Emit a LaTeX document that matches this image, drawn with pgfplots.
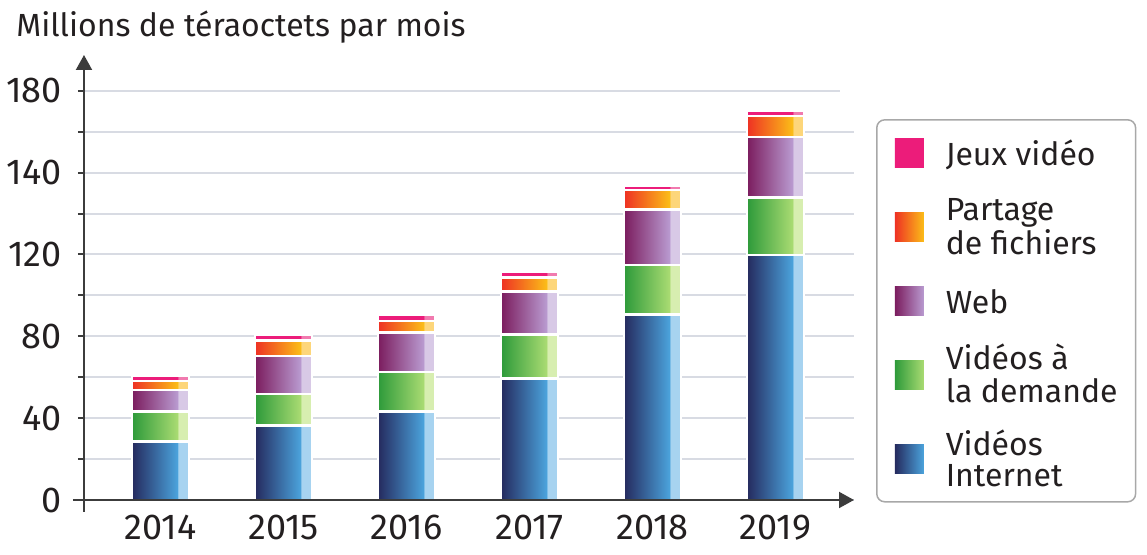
\documentclass[border=0pt]{standalone}
\usepackage{fontspec}
\setmainfont{Fira Sans}
\usepackage{pgfplots}
\usepackage{pgfplotstable}
\pgfplotsset{compat=1.18}
\usetikzlibrary{arrows.meta}

\definecolor{txt}{HTML}{231F20}
\definecolor{axc}{HTML}{3C3C3C}
\definecolor{gridc}{HTML}{D8DBE3}
\definecolor{legc}{HTML}{A8A8A8}
% blue
\definecolor{bL}{HTML}{252A5E}
\definecolor{bR}{HTML}{4BA3DC}
\definecolor{bS}{HTML}{A7D3F0}
% green
\definecolor{gL}{HTML}{2D9A3A}
\definecolor{gR}{HTML}{A9DB72}
\definecolor{gS}{HTML}{D7EEB0}
% purple
\definecolor{pL}{HTML}{7B1C5E}
\definecolor{pR}{HTML}{B99AD0}
\definecolor{pS}{HTML}{D8C9E6}
% orange
\definecolor{oL}{HTML}{EE3124}
\definecolor{oR}{HTML}{FBBD18}
\definecolor{oS}{HTML}{FDD67A}
% pink
\definecolor{kL}{HTML}{EC1C7A}
\definecolor{kS}{HTML}{F17AAF}

% bar shadings: gradient, then a pale strip on the right fifth
\pgfdeclarehorizontalshading{shB}{100bp}{color(0bp)=(bL); color(25bp)=(bL); color(65bp)=(bR); color(65.6bp)=(bS); color(100bp)=(bS)}
\pgfdeclarehorizontalshading{shG}{100bp}{color(0bp)=(gL); color(25bp)=(gL); color(65bp)=(gR); color(65.6bp)=(gS); color(100bp)=(gS)}
\pgfdeclarehorizontalshading{shP}{100bp}{color(0bp)=(pL); color(25bp)=(pL); color(65bp)=(pR); color(65.6bp)=(pS); color(100bp)=(pS)}
\pgfdeclarehorizontalshading{shO}{100bp}{color(0bp)=(oL); color(25bp)=(oL); color(65bp)=(oR); color(65.6bp)=(oS); color(100bp)=(oS)}
\pgfdeclarehorizontalshading{shK}{100bp}{color(0bp)=(kL); color(65bp)=(kL); color(65.6bp)=(kS); color(100bp)=(kS)}
% legend squares: plain gradient
\pgfdeclarehorizontalshading{lgB}{100bp}{color(0bp)=(bL); color(25bp)=(bL); color(75bp)=(bR); color(100bp)=(bR)}
\pgfdeclarehorizontalshading{lgG}{100bp}{color(0bp)=(gL); color(25bp)=(gL); color(75bp)=(gR); color(100bp)=(gR)}
\pgfdeclarehorizontalshading{lgP}{100bp}{color(0bp)=(pL); color(25bp)=(pL); color(75bp)=(pR); color(100bp)=(pR)}
\pgfdeclarehorizontalshading{lgO}{100bp}{color(0bp)=(oL); color(25bp)=(oL); color(75bp)=(oR); color(100bp)=(oR)}
\pgfdeclarehorizontalshading{lgK}{100bp}{color(0bp)=(kL); color(100bp)=(kL)}

% cumulative tops of each layer (million TB / month)
\pgfplotstableread{
idx  blue   green  purple orange pink
0    28.6   43.3   53.9   58.3   60.7
1    36.4   51.9   70.4   78.0   80.8
2    43.3   62.6   81.8   87.6   90.6
3    59.3   80.9   102.0  108.7  111.3
4    90.6   115.0  141.9  151.4  153.8
5    119.6  147.8  177.5  187.7  190.3
}\traffic

\pgfplotsset{
  seg/.style={draw=white, line width=1.2pt, bar shift=0pt, shading=#1},
  sq/.style={legend image code/.code={\path[draw=none, sharp corners, shading=#1] (0pt,-7.25pt) rectangle (14.5pt,7.25pt);}},
}
% legend texts: one line in a 21pt box, two lines in a 31pt box
\newcommand{\onel}[1]{\rule[-4.25pt]{0pt}{21pt}#1}
\newcommand{\twol}[2]{\raisebox{0pt}[29.5pt][1.5pt]{\begin{tabular}[b]{@{}l@{}}#1\\#2\end{tabular}}}

\begin{document}
\begin{tikzpicture}
  \begin{axis}[
      ybar,
      bar width=28.5pt,
      scale only axis,
      width=385pt, height=222.5pt,
      xmin=-0.622, xmax=5.638,
      ymin=0, ymax=217.5,
      clip=false,
      axis lines*=left,
      axis line style={draw=none},
      xtick={0,...,5},
      xticklabels={2014,2015,2016,2017,2018,2019},
      xtick style={draw=none},
      ytick={0,20,...,200},
      yticklabels={0,,40,,80,,120,,140,,180},
      ytick style={axc, line width=1pt},
      tick align=outside,
      major tick length=3pt,
      ymajorgrids,
      major grid style={gridc, line width=1pt, shorten >=7pt},
      tick label style={font=\fontsize{18}{20}\selectfont, text=txt},
      yticklabel style={anchor=east, inner sep=0pt, xshift=-8pt},
      xticklabel style={anchor=north, inner sep=0pt, yshift=-4.5pt},
      legend cell align=left,
      legend style={at={(1.0286,0.856)}, anchor=north west,
        draw=legc, line width=0.75pt, rounded corners=4pt,
        font=\fontsize{16}{15.5}\selectfont, text=txt,
        inner xsep=9pt, inner ysep=6pt,
        row sep=11pt, column sep=11pt,
        nodes={inner sep=0pt, text depth=}},
    ]
    % one bar per year and layer, tallest first, so each keeps its own shading
    \pgfplotsinvokeforeach{0,...,5}{
      \addplot[seg=shK, forget plot] table[x=idx, y=pink,   restrict x to domain=#1:#1] {\traffic};
      \addplot[seg=shO, forget plot] table[x=idx, y=orange, restrict x to domain=#1:#1] {\traffic};
      \addplot[seg=shP, forget plot] table[x=idx, y=purple, restrict x to domain=#1:#1] {\traffic};
      \addplot[seg=shG, forget plot] table[x=idx, y=green,  restrict x to domain=#1:#1] {\traffic};
      \addplot[seg=shB, forget plot] table[x=idx, y=blue,   restrict x to domain=#1:#1] {\traffic};
    }
    \addlegendimage{sq=lgK}\addlegendentry{\onel{Jeux vidéo}}
    \addlegendimage{sq=lgO}\addlegendentry{\twol{Partage}{de fichiers}}
    \addlegendimage{sq=lgP}\addlegendentry{\onel{Web}}
    \addlegendimage{sq=lgG}\addlegendentry{\twol{Vidéos à}{la demande}}
    \addlegendimage{sq=lgB}\addlegendentry{\twol{Vidéos}{Internet}}

    % axes with arrows, drawn over the bars
    \draw[axc, line width=1pt, -{Triangle[length=7.5pt,width=8pt]}]
      ([yshift=-6pt]rel axis cs:0,0) -- (rel axis cs:0,1);
    \draw[axc, line width=1pt, -{Triangle[length=7.5pt,width=8pt]}]
      ([xshift=-5.5pt]rel axis cs:0,0) -- (rel axis cs:1,0);
    % title
    \node[anchor=base west, inner sep=0pt, text=txt, font=\fontsize{16}{19}\selectfont]
      at ([xshift=-34pt,yshift=231.5pt]rel axis cs:0,0) {Millions de téraoctets par mois};
    % page frame
    \path ([xshift=-42pt,yshift=-27.5pt]rel axis cs:0,0) rectangle ++(573.5pt,277.5pt);
  \end{axis}
\end{tikzpicture}
\end{document}
